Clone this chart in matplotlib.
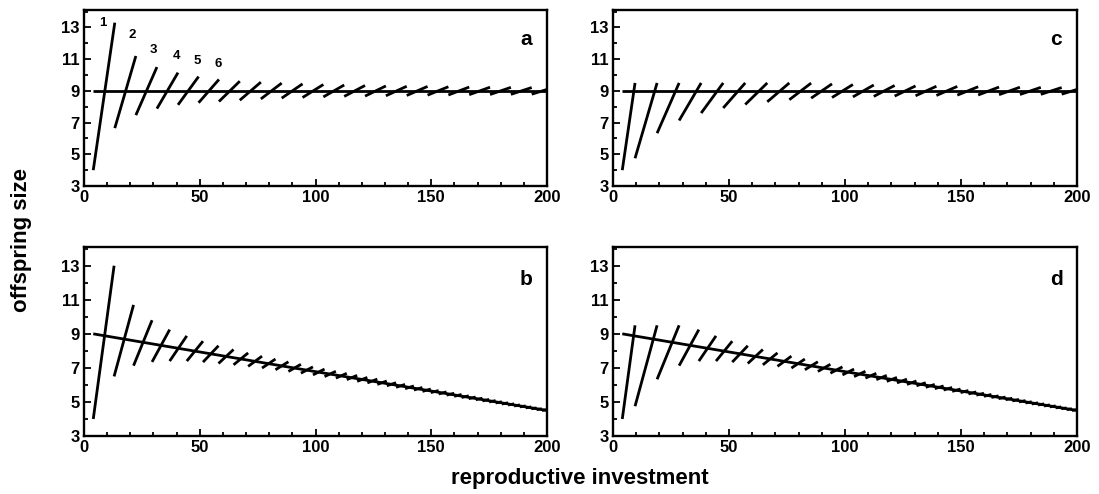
import matplotlib
matplotlib.use("Agg")
import matplotlib.pyplot as plt
from matplotlib.ticker import MultipleLocator

plt.rcParams['font.family'] = ['Liberation Sans', 'DejaVu Sans']
plt.rcParams['font.weight'] = 'bold'

# ---- data ----
# panel a: segment breakpoints along reproductive investment, and segment low/high offspring size
a_brk = [4, 13.3, 22.4, 31.5, 40.6, 49.5, 58.3, 67.3, 76.4, 85.4, 94.4, 103.4, 112.4,
         121.4, 130.4, 139.4, 148.4, 157.4, 166.4, 175.4, 184.4, 193.4, 200]
a_lo = [4.00, 6.65, 7.47, 7.88, 8.12, 8.25, 8.33, 8.41, 8.49, 8.54, 8.58, 8.62, 8.65,
        8.67, 8.69, 8.71, 8.73, 8.74, 8.76, 8.77, 8.78, 8.79]
a_hi = [13.30, 11.20, 10.50, 10.15, 9.90, 9.72, 9.61, 9.55, 9.49, 9.44, 9.40, 9.37, 9.34,
        9.31, 9.29, 9.28, 9.26, 9.24, 9.23, 9.22, 9.21, 9.09]

c_brk = [4, 9.5, 19.0, 28.5, 38.0, 47.5, 57.0, 66.5, 76.0, 85.4, 94.4, 103.4, 112.4,
         121.4, 130.4, 139.4, 148.4, 157.4, 166.4, 175.4, 184.4, 193.4, 200]
c_lo = [4.00, 4.75, 6.33, 7.13, 7.60, 7.92, 8.14, 8.31, 8.44, 8.54, 8.58, 8.62, 8.65,
        8.67, 8.69, 8.71, 8.73, 8.74, 8.76, 8.77, 8.78, 8.79]
c_hi = [9.50, 9.50, 9.50, 9.50, 9.50, 9.50, 9.50, 9.50, 9.49, 9.44, 9.40, 9.37, 9.34,
        9.31, 9.29, 9.28, 9.26, 9.24, 9.23, 9.22, 9.21, 9.09]

b_brk = [4, 13.0, 21.4, 29.4, 37.0, 44.4, 51.4, 58.1, 64.6, 70.9, 76.9, 82.7, 88.3, 93.7,
         98.9, 103.9, 108.8, 113.5, 118.0, 122.4, 126.7, 130.8, 134.8, 138.7, 142.5, 146.2,
         149.8, 153.2, 156.6, 159.9, 163.1, 166.2, 169.2, 172.1, 175.0, 177.8, 180.5, 183.2,
         185.8, 188.3, 190.8, 193.2, 195.5, 197.8, 200]
b_lo = [4.00, 6.50, 7.13, 7.35, 7.40, 7.40, 7.34, 7.26, 7.18, 7.09, 6.99, 6.89, 6.79, 6.69,
        6.59, 6.49, 6.40, 6.31, 6.21, 6.12, 6.03, 5.95, 5.86, 5.78, 5.70, 5.62, 5.55, 5.47,
        5.40, 5.33, 5.26, 5.19, 5.13, 5.06, 5.00, 4.94, 4.88, 4.82, 4.76, 4.71, 4.65, 4.60,
        4.55, 4.50]
b_hi = [13.00, 10.70, 9.80, 9.25, 8.88, 8.57, 8.30, 8.08, 7.88, 7.69, 7.52, 7.36, 7.21, 7.06,
        6.93, 6.80, 6.68, 6.56, 6.44, 6.34, 6.23, 6.13, 6.03, 5.94, 5.85, 5.76, 5.67, 5.59,
        5.51, 5.44, 5.36, 5.29, 5.22, 5.15, 5.08, 5.01, 4.95, 4.89, 4.83, 4.77, 4.71, 4.65,
        4.60, 4.55]

d_brk = [4, 9.5, 19.0, 28.5, 37.0, 44.4, 51.4, 58.1, 64.6, 70.9, 76.9, 82.7, 88.3, 93.7,
         98.9, 103.9, 108.8, 113.5, 118.0, 122.4, 126.7, 130.8, 134.8, 138.7, 142.5, 146.2,
         149.8, 153.2, 156.6, 159.9, 163.1, 166.2, 169.2, 172.1, 175.0, 177.8, 180.5, 183.2,
         185.8, 188.3, 190.8, 193.2, 195.5, 197.8, 200]
d_lo = [4.00, 4.75, 6.33, 7.13, 7.40, 7.40, 7.34, 7.26, 7.18, 7.09, 6.99, 6.89, 6.79, 6.69,
        6.59, 6.49, 6.40, 6.31, 6.21, 6.12, 6.03, 5.95, 5.86, 5.78, 5.70, 5.62, 5.55, 5.47,
        5.40, 5.33, 5.26, 5.19, 5.13, 5.06, 5.00, 4.94, 4.88, 4.82, 4.76, 4.71, 4.65, 4.60,
        4.55, 4.50]
d_hi = [9.50, 9.50, 9.50, 9.25, 8.88, 8.57, 8.30, 8.08, 7.88, 7.69, 7.52, 7.36, 7.21, 7.06,
        6.93, 6.80, 6.68, 6.56, 6.44, 6.34, 6.23, 6.13, 6.03, 5.94, 5.85, 5.76, 5.67, 5.59,
        5.51, 5.44, 5.36, 5.29, 5.22, 5.15, 5.08, 5.01, 4.95, 4.89, 4.83, 4.77, 4.71, 4.65,
        4.60, 4.55]

# optimal offspring size lines
flat_x = [4, 200]
flat_y = [9.0, 9.0]
decl_x = [4, 100, 200]
decl_y = [9.0, 6.78, 4.5]

# clutch-number labels in panel a
num_labels = ['1', '2', '3', '4', '5', '6']
num_x = [8.0, 21.0, 30.0, 39.8, 48.8, 57.8]
num_y = [13.3, 12.5, 11.6, 11.2, 10.9, 10.7]

x_ticks = [0, 50, 100, 150, 200]
y_ticks = [3, 5, 7, 9, 11, 13]

panels = [
    ('a', a_brk, a_lo, a_hi, flat_x, flat_y),
    ('b', b_brk, b_lo, b_hi, decl_x, decl_y),
    ('c', c_brk, c_lo, c_hi, flat_x, flat_y),
    ('d', d_brk, d_lo, d_hi, decl_x, decl_y),
]

# ---- layout (pixels of a 1099 x 494 figure) ----
W, H = 1099, 494
fig = plt.figure(figsize=(W / 100, H / 100), dpi=100)

boxes = {
    'a': (84, 547, 10, 186),
    'c': (613, 1077, 10, 186),
    'b': (84, 547, 247, 436),
    'd': (613, 1077, 247, 436),
}

LW = 2.0
for name, brk, lo, hi, lx, ly in panels:
    x0, x1, y0, y1 = boxes[name]
    ax = fig.add_axes([x0 / W, 1 - y1 / H, (x1 - x0) / W, (y1 - y0) / H])
    ax.plot(lx, ly, color='black', lw=LW, solid_capstyle='butt')
    for i in range(len(lo)):
        ax.plot([brk[i], brk[i + 1]], [lo[i], hi[i]], color='black', lw=LW,
                solid_capstyle='butt')
    ax.set_xlim(0, 200)
    ax.set_ylim(3, 14.1)
    ax.set_xticks(x_ticks)
    ax.set_yticks(y_ticks)
    ax.xaxis.set_minor_locator(MultipleLocator(10))
    ax.yaxis.set_minor_locator(MultipleLocator(1))
    ax.tick_params(which='both', direction='in', width=1.3, top=False, right=False)
    ax.tick_params(which='major', length=5, labelsize=12, pad=3)
    ax.tick_params(which='minor', length=3)
    for lab in ax.get_xticklabels() + ax.get_yticklabels():
        lab.set_fontweight('bold')
    for sp in ax.spines.values():
        sp.set_linewidth(1.7)
    ax.text(0.955, 0.83, name, transform=ax.transAxes, ha='center', va='center',
            fontsize=15, fontweight='bold')
    if name == 'a':
        for t, tx, ty in zip(num_labels, num_x, num_y):
            ax.text(tx, ty, t, ha='center', va='center', fontsize=9.5, fontweight='bold')

fig.text(22 / W, 1 - 240 / H, 'offspring size', rotation=90, ha='center', va='center',
         fontsize=16, fontweight='bold')
fig.text(580 / W, 1 - 478 / H, 'reproductive investment', ha='center', va='center',
         fontsize=16, fontweight='bold')

fig.savefig('out.png', dpi=100)
